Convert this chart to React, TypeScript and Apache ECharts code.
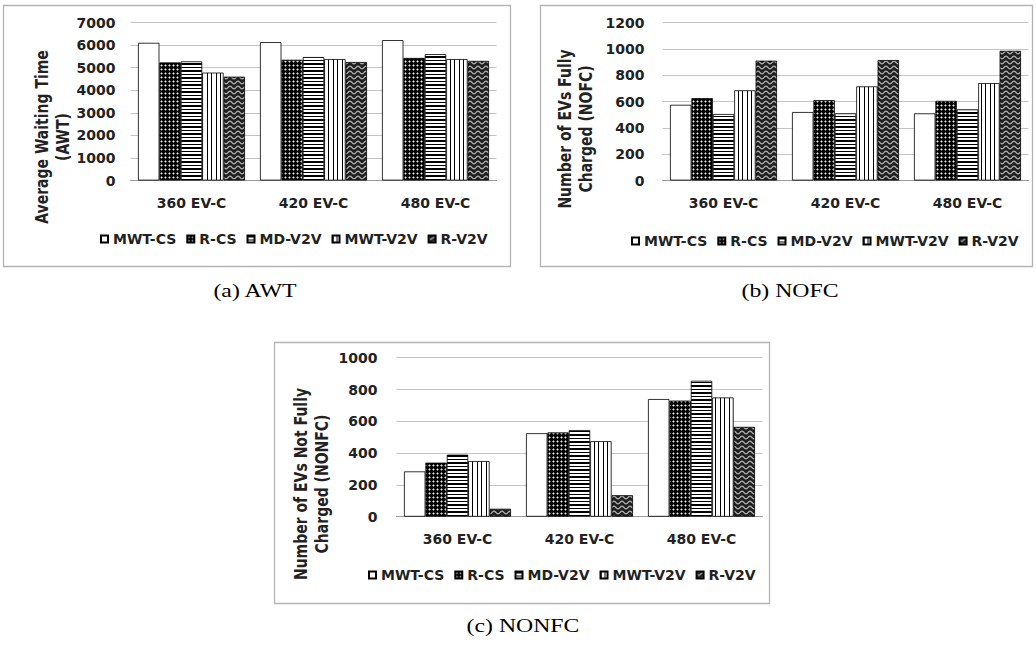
import React, { useEffect, useRef } from 'react';
import * as echarts from 'echarts';

// ---------- data ----------
const categories = ['360 EV-C', '420 EV-C', '480 EV-C'];
const seriesNames = ['MWT-CS', 'R-CS', 'MD-V2V', 'MWT-V2V', 'R-V2V'];

// (a) Average Waiting Time
const awtMwtCs = [6100, 6130, 6220];
const awtRCs = [5230, 5350, 5430];
const awtMdV2v = [5280, 5470, 5600];
const awtMwtV2v = [4780, 5380, 5380];
const awtRV2v = [4600, 5250, 5300];
const awtAxis = [0, 7000, 1000];

// (b) Number of EVs Fully Charged
const nofcMwtCs = [575, 520, 510];
const nofcRCs = [625, 610, 605];
const nofcMdV2v = [505, 510, 540];
const nofcMwtV2v = [685, 715, 740];
const nofcRV2v = [910, 915, 985];
const nofcAxis = [0, 1200, 200];

// (c) Number of EVs Not Fully Charged
const nonfcMwtCs = [285, 525, 740];
const nonfcRCs = [340, 530, 730];
const nonfcMdV2v = [390, 545, 855];
const nonfcMwtV2v = [350, 475, 750];
const nonfcRV2v = [50, 135, 565];
const nonfcAxis = [0, 1000, 200];

const yTitles = [
  'Average Waiting Time\n(AWT)',
  'Number of EVs Fully\nCharged (NOFC)',
  'Number of EVs Not Fully\nCharged (NONFC)',
];
const captions = ['(a) AWT', '(b) NOFC', '(c) NONFC'];

// ---------- patterns ----------
function tile(w: number, h: number, draw: (ctx: CanvasRenderingContext2D) => void) {
  const c = document.createElement('canvas');
  c.width = w;
  c.height = h;
  const ctx = c.getContext('2d') as CanvasRenderingContext2D;
  draw(ctx);
  return { image: c.toDataURL(), imageWidth: w, imageHeight: h, repeat: 'repeat' };
}

function makePatterns(): any[] {
  const white = '#ffffff';
  const dots = tile(4, 4, (ctx) => {
    ctx.fillStyle = '#000';
    ctx.fillRect(0, 0, 4, 4);
    ctx.fillStyle = '#7a7a7a';
    ctx.fillRect(0, 1, 3, 1);
    ctx.fillRect(1, 0, 1, 3);
    ctx.fillStyle = '#e0e0e0';
    ctx.fillRect(1, 1, 1, 1);
  });
  const hLines = tile(4, 7, (ctx) => {
    ctx.fillStyle = '#fff';
    ctx.fillRect(0, 0, 4, 7);
    ctx.fillStyle = '#000';
    ctx.fillRect(0, 0, 4, 2);
    ctx.fillRect(0, 4, 4, 1);
  });
  const vLines = tile(9, 4, (ctx) => {
    ctx.fillStyle = '#fff';
    ctx.fillRect(0, 0, 9, 4);
    ctx.fillStyle = '#000';
    ctx.fillRect(0, 0, 1, 4);
    ctx.fillRect(4, 0, 1, 4);
  });
  const waves = tile(8, 5, (ctx) => {
    ctx.fillStyle = '#1e1e1e';
    ctx.fillRect(0, 0, 8, 5);
    ctx.strokeStyle = '#a8a8a8';
    ctx.lineWidth = 1.4;
    ctx.beginPath();
    for (let i = -1; i <= 9; i += 0.25) {
      const y = 2.5 + 1.3 * Math.sin((2 * Math.PI * i) / 8);
      if (i === -1) ctx.moveTo(i, y);
      else ctx.lineTo(i, y);
    }
    ctx.stroke();
  });
  return [white, dots, hLines, vLines, waves];
}

const TEXT = '#222222';
const FONT = 'DejaVu Sans';

export default function App() {
  const ref = useRef<HTMLDivElement>(null);

  useEffect(() => {
    if (!ref.current) return;
    const chart = echarts.init(ref.current, undefined, { renderer: 'svg' });
    const patterns = makePatterns();

    const panels = [
      { values: [awtMwtCs, awtRCs, awtMdV2v, awtMwtV2v, awtRV2v], axis: awtAxis },
      { values: [nofcMwtCs, nofcRCs, nofcMdV2v, nofcMwtV2v, nofcRV2v], axis: nofcAxis },
      { values: [nonfcMwtCs, nonfcRCs, nonfcMdV2v, nonfcMwtV2v, nonfcRV2v], axis: nonfcAxis },
    ];

    const grids = [
      { left: 130.5, top: 22.5, width: 366, height: 158 },
      { left: 662.5, top: 22.5, width: 366, height: 158 },
      { left: 396.5, top: 357.7, width: 366, height: 159 },
    ];
    const yLabelMargins = [15, 18, 19];
    const legendPos = [
      { left: 100, top: 232 },
      { left: 631, top: 234 },
      { left: 368, top: 568 },
    ];
    const boxes = [
      { x: 3.5, y: 5.5, width: 507, height: 261 },
      { x: 540.5, y: 5.5, width: 492, height: 261 },
      { x: 274.5, y: 342.5, width: 495, height: 261 },
    ];
    const titlePos = [
      { x: 53, y: 137 },
      { x: 576, y: 129 },
      { x: 312, y: 484 },
    ];
    const captionPos = [
      { x: 255, y: 291 },
      { x: 790, y: 291 },
      { x: 523, y: 626 },
    ];

    const series: any[] = [];
    panels.forEach((p, pi) => {
      p.values.forEach((vals, si) => {
        series.push({
          type: 'bar',
          name: seriesNames[si],
          xAxisIndex: pi,
          yAxisIndex: pi,
          data: vals,
          barGap: '0%',
          barCategoryGap: '12.3%',
          itemStyle: { color: patterns[si], borderColor: '#000', borderWidth: 0.8 },
          emphasis: { disabled: true },
        });
      });
    });

    const graphic: any[] = [];
    boxes.forEach((b) => {
      graphic.push({
        type: 'rect',
        shape: b,
        style: { fill: 'none', stroke: '#b4b4b4', lineWidth: 1.3 },
        silent: true,
      });
    });
    titlePos.forEach((t, i) => {
      graphic.push({
        type: 'text',
        x: t.x,
        y: t.y,
        rotation: Math.PI / 2,
        scaleY: 1.22,
        style: {
          text: yTitles[i],
          fontSize: 14,
          fontWeight: 'bold',
          fontFamily: FONT,
          fill: TEXT,
          align: 'center',
          verticalAlign: 'middle',
          lineHeight: 16.5,
        },
        silent: true,
      });
    });
    captionPos.forEach((c, i) => {
      graphic.push({
        type: 'text',
        x: c.x,
        y: c.y,
        scaleX: 1.25,
        style: {
          text: captions[i],
          fontSize: 19,
          fontFamily: 'Liberation Serif',
          fill: '#000',
          align: 'center',
          verticalAlign: 'middle',
        },
        silent: true,
      });
    });

    chart.setOption({
      animation: false,
      backgroundColor: '#ffffff',
      grid: grids,
      xAxis: grids.map((_, i) => ({
        type: 'category',
        gridIndex: i,
        data: categories,
        axisTick: { show: false },
        axisLine: { lineStyle: { color: '#9a9a9a', width: 1 } },
        axisLabel: {
          fontSize: 14,
          fontWeight: 'bold',
          fontFamily: FONT,
          color: TEXT,
          margin: 15,
        },
      })),
      yAxis: panels.map((p, i) => ({
        type: 'value',
        gridIndex: i,
        min: p.axis[0],
        max: p.axis[1],
        interval: p.axis[2],
        axisLine: { show: false },
        axisTick: { show: false },
        splitLine: { lineStyle: { color: '#c4c4c4', width: 1 } },
        axisLabel: {
          fontSize: 14,
          fontWeight: 'bold',
          fontFamily: FONT,
          color: TEXT,
          margin: yLabelMargins[i],
          formatter: (v: number) => String(v),
        },
      })),
      legend: legendPos.map((lp) => ({
        data: seriesNames,
        left: lp.left,
        top: lp.top,
        orient: 'horizontal',
        icon: 'rect',
        itemWidth: 7,
        itemHeight: 7,
        itemGap: 10,
        padding: 0,
        selectedMode: false,
        textStyle: { fontSize: 14, fontWeight: 'bold', fontFamily: FONT, color: TEXT },
      })),
      series,
      graphic,
    });

    return () => {
      chart.dispose();
    };
  }, []);

  return (
    <div
      ref={ref}
      style={{ position: 'absolute', left: 0, top: 0, width: 1036, height: 652, background: '#fff' }}
    />
  );
}
